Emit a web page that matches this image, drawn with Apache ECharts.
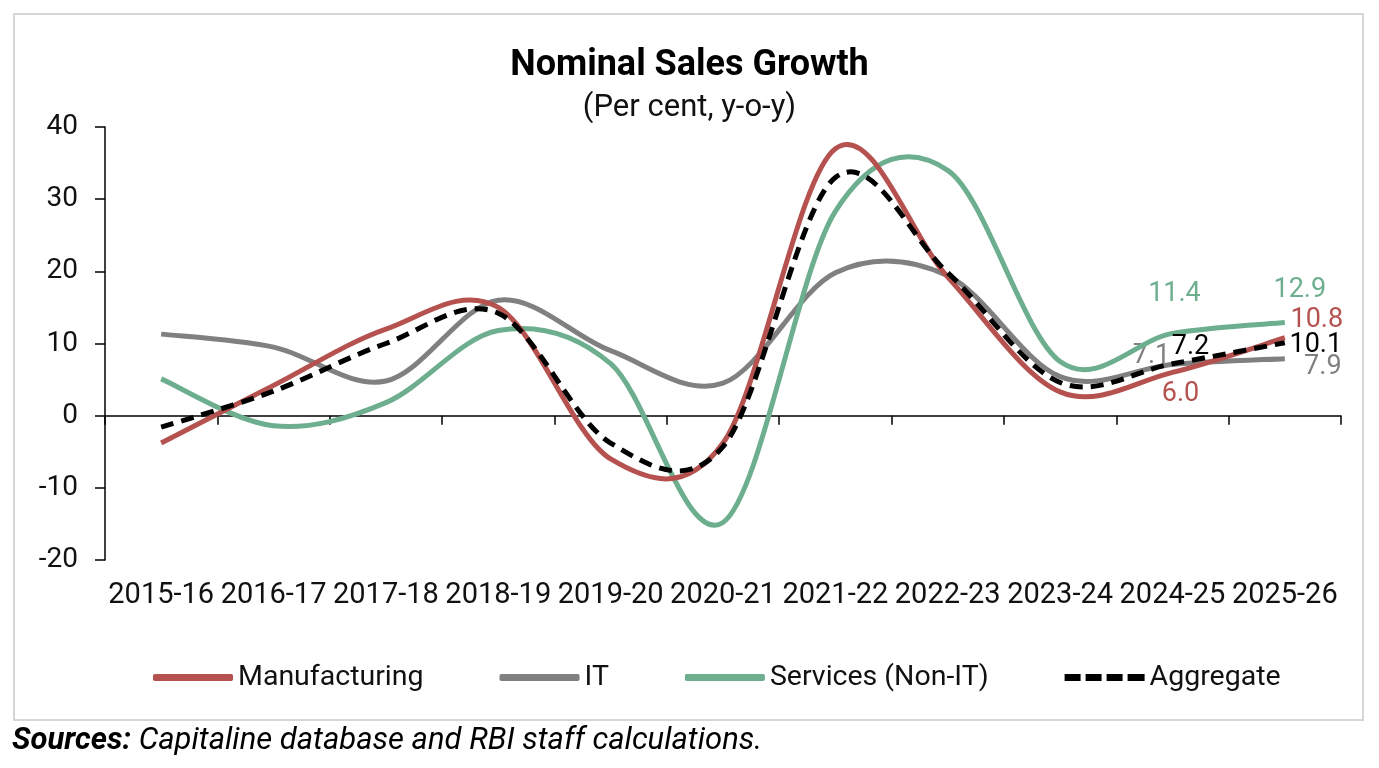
<!DOCTYPE html>
<html>
<head>
<meta charset="utf-8">
<title>Nominal Sales Growth</title>
<script src="https://cdn.jsdelivr.net/npm/echarts@6/dist/echarts.min.js"></script>
<style>
  html, body { margin: 0; padding: 0; background: #fff; }
  #chart { width: 1379px; height: 768px; }
</style>
</head>
<body>
<div id="chart"></div>
<script>
// 数据：年份与各行业名义销售增速（%）
const years = ['2015-16', '2016-17', '2017-18', '2018-19', '2019-20', '2020-21',
  '2021-22', '2022-23', '2023-24', '2024-25', '2025-26'];
const manufacturing = [-3.8, 4.2, 12.0, 15.0, -6.0, -3.8, 37.0, 19.2, 3.3, 6.0, 10.8];
const it = [11.3, 9.5, 4.8, 16.0, 9.0, 4.5, 19.8, 19.4, 5.4, 7.1, 7.9];
const services = [5.1, -1.4, 1.8, 11.8, 7.2, -14.8, 28.3, 34.0, 7.5, 11.4, 12.9];
const aggregate = [-1.6, 3.4, 10.0, 14.2, -3.8, -4.3, 33.0, 19.8, 4.6, 7.2, 10.1];

const yTicks = { min: -20, max: 40, interval: 10 };
const FONT = 'Roboto, "Noto Sans", sans-serif';

const COLORS = {
  manufacturing: '#b5524f',
  it: '#808080',
  services: '#6dae8f',
  aggregate: '#000000'
};

// 最后两期数据标签相对数据点的偏移（标签中心）
const labelOffsets = {
  manufacturing: { 9: [8, 22], 10: [32, -17] },
  it: { 9: [-21, -8], 10: [38, 9] },
  services: { 9: [2, -39], 10: [15, -32] },
  aggregate: { 9: [18, -16], 10: [31, 2] }
};

// 类似 Excel 的平滑曲线（Catmull-Rom 转 Bezier）
function curvePath(pts) {
  let d = 'M' + pts[0][0] + ',' + pts[0][1];
  for (let i = 0; i < pts.length - 1; i++) {
    const p0 = pts[i - 1] || pts[i];
    const p1 = pts[i];
    const p2 = pts[i + 1];
    const p3 = pts[i + 2] || pts[i + 1];
    const c1x = p1[0] + (p2[0] - p0[0]) / 6;
    const c1y = p1[1] + (p2[1] - p0[1]) / 6;
    const c2x = p2[0] - (p3[0] - p1[0]) / 6;
    const c2y = p2[1] - (p3[1] - p1[1]) / 6;
    d += ' C' + c1x + ',' + c1y + ' ' + c2x + ',' + c2y + ' ' + p2[0] + ',' + p2[1];
  }
  return d;
}

function curveSeries(name, values, offsets, color, dashed, z) {
  return {
    name: name,
    type: 'custom',
    coordinateSystem: 'cartesian2d',
    xAxisIndex: 0,
    yAxisIndex: 0,
    silent: true,
    z: z,
    itemStyle: { color: color },
    encode: { x: 0, y: 1 },
    data: values.map((v, i) => [i, v]),
    renderItem: function (params, api) {
      if (params.dataIndex !== 0) return null;
      const pts = values.map((v, i) => api.coord([i, v]));
      const children = [{
        type: 'path',
        shape: { pathData: curvePath(pts) },
        style: {
          fill: 'none',
          stroke: color,
          lineWidth: 5,
          lineDash: dashed ? [13, 8] : null,
          lineCap: 'butt',
          lineJoin: 'round'
        }
      }];
      Object.keys(offsets).forEach(k => {
        const i = +k;
        children.push({
          type: 'text',
          x: pts[i][0] + offsets[k][0],
          y: pts[i][1] + offsets[k][1],
          z2: 10,
          style: {
            text: values[i].toFixed(1),
            fill: color,
            fontSize: 27,
            fontFamily: FONT,
            align: 'center',
            verticalAlign: 'middle'
          }
        });
      });
      return { type: 'group', children: children };
    }
  };
}

const chart = echarts.init(document.getElementById('chart'));

const option = {
  animation: false,
  backgroundColor: '#fff',
  title: {
    text: 'Nominal Sales Growth',
    subtext: '(Per cent, y-o-y)',
    left: 'center',
    top: 43,
    itemGap: 9,
    textStyle: { fontFamily: FONT, fontSize: 36, fontWeight: 'bold', color: '#000' },
    subtextStyle: { fontFamily: FONT, fontSize: 31, color: '#111' }
  },
  grid: { left: 105, right: 38, top: 127, bottom: 208, containLabel: false },
  legend: {
    top: 658,
    left: 148,
    itemWidth: 80,
    itemHeight: 7,
    itemGap: 76,
    textStyle: { fontFamily: FONT, fontSize: 28.5, color: '#111' },
    data: [
      { name: 'Manufacturing', icon: 'roundRect' },
      { name: 'IT', icon: 'roundRect' },
      { name: 'Services (Non-IT)', icon: 'roundRect' },
      { name: 'Aggregate', icon: 'path://M0,0h16v7h-16zM21,0h16v7h-16zM42,0h16v7h-16zM63,0h17v7h-17z' }
    ]
  },
  xAxis: [
    {
      type: 'category',
      data: years,
      position: 'bottom',
      boundaryGap: true,
      axisLine: { onZero: true, lineStyle: { color: '#000', width: 1.5 } },
      axisTick: { show: true, length: 9, lineStyle: { color: '#000', width: 1.5 } },
      axisLabel: { show: false },
      splitLine: { show: false }
    },
    {
      type: 'category',
      data: years,
      position: 'bottom',
      boundaryGap: true,
      axisLine: { show: false, onZero: false },
      axisTick: { show: false },
      axisLabel: { interval: 0, fontFamily: FONT, fontSize: 29, color: '#111', margin: 21 },
      splitLine: { show: false }
    }
  ],
  yAxis: {
    type: 'value',
    min: yTicks.min,
    max: yTicks.max,
    interval: yTicks.interval,
    axisLine: { show: true, lineStyle: { color: '#000', width: 1.5 } },
    axisTick: { show: true, length: 10, lineStyle: { color: '#000', width: 1.5 } },
    axisLabel: { fontFamily: FONT, fontSize: 28, color: '#111', margin: 27 },
    splitLine: { show: false }
  },
  series: [
    curveSeries('IT', it, labelOffsets.it, COLORS.it, false, 2),
    curveSeries('Services (Non-IT)', services, labelOffsets.services, COLORS.services, false, 3),
    curveSeries('Manufacturing', manufacturing, labelOffsets.manufacturing, COLORS.manufacturing, false, 4),
    curveSeries('Aggregate', aggregate, labelOffsets.aggregate, COLORS.aggregate, true, 5)
  ],
  graphic: [
    {
      type: 'rect',
      silent: true,
      shape: { x: 14, y: 14, width: 1349, height: 706 },
      style: { fill: 'none', stroke: '#d6d6d6', lineWidth: 2 }
    },
    {
      type: 'text',
      left: 12,
      top: 726,
      silent: true,
      style: {
        text: '{b|Sources:\u00a0}{i|Capitaline database and RBI staff calculations.}',
        rich: {
          b: { fontFamily: FONT, fontSize: 31, fontWeight: 'bold', fontStyle: 'italic', fill: '#000' },
          i: { fontFamily: FONT, fontSize: 31, fontStyle: 'italic', fill: '#000' }
        }
      }
    }
  ]
};

chart.setOption(option);
</script>
</body>
</html>
